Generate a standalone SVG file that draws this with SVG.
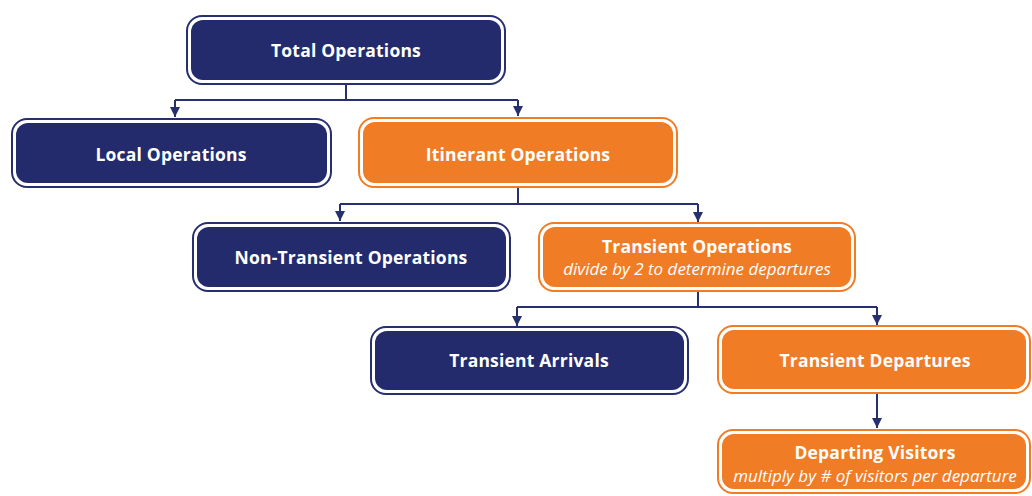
<svg xmlns="http://www.w3.org/2000/svg" width="1032" height="496" viewBox="0 0 1032 496">
<defs>
<style>
.o{fill:#fff;stroke-width:2}
.nv .o{stroke:#27306e}
.nv .i{fill:#232b6c}
.or .o{stroke:#f07c26}
.or .i{fill:#f07c26}
.t{font-family:"Open Sans","DejaVu Sans",sans-serif;font-weight:bold;font-size:17.5px;letter-spacing:0.2px;fill:#fff;text-anchor:middle}
.s{font-family:"Open Sans","DejaVu Sans",sans-serif;font-style:italic;font-size:17px;fill:#fff;text-anchor:middle}
.c{fill:none;stroke:#27306e;stroke-width:2}
</style>
<marker id="ah" viewBox="0 0 10 10" refX="10" refY="5" markerWidth="5" markerHeight="5" orient="auto" markerUnits="strokeWidth">
<path d="M0,0 L10,5 L0,10 z" fill="#27306e"/>
</marker>
</defs>
<rect width="1032" height="496" fill="#fff"/>
<g id="connectors">
<path class="c" d="M346,84 V100"/>
<path class="c" d="M175,100 H518"/>
<path class="c" d="M175,100 V117" marker-end="url(#ah)"/>
<path class="c" d="M518,100 V116" marker-end="url(#ah)"/>
<path class="c" d="M518,188 V204"/>
<path class="c" d="M340,204 H698"/>
<path class="c" d="M340,204 V221" marker-end="url(#ah)"/>
<path class="c" d="M698,204 V222" marker-end="url(#ah)"/>
<path class="c" d="M698,292 V307"/>
<path class="c" d="M517,307 H877"/>
<path class="c" d="M517,307 V326" marker-end="url(#ah)"/>
<path class="c" d="M877,307 V325" marker-end="url(#ah)"/>
<path class="c" d="M877,393 V428" marker-end="url(#ah)"/>
</g>
<g id="total" class="nv">
<rect class="o" x="187" y="16" width="318" height="68" rx="15"/>
<rect class="i" x="191" y="20" width="310" height="60" rx="12"/>
<text class="t" x="346" y="57">Total Operations</text>
</g>
<g id="local" class="nv">
<rect class="o" x="12" y="119" width="319" height="68" rx="15"/>
<rect class="i" x="16" y="123" width="311" height="60" rx="12"/>
<text class="t" x="171" y="161">Local Operations</text>
</g>
<g id="itinerant" class="or">
<rect class="o" x="359" y="118" width="318" height="69" rx="15"/>
<rect class="i" x="363" y="122" width="310" height="61" rx="12"/>
<text class="t" x="518" y="161">Itinerant Operations</text>
</g>
<g id="nontransient" class="nv">
<rect class="o" x="193" y="223" width="317" height="68" rx="15"/>
<rect class="i" x="197" y="227" width="309" height="60" rx="12"/>
<text class="t" x="351" y="264">Non-Transient Operations</text>
</g>
<g id="transient" class="or">
<rect class="o" x="539" y="223" width="316" height="68" rx="15"/>
<rect class="i" x="543" y="227" width="308" height="60" rx="12"/>
<text class="t" x="697" y="253">Transient Operations</text>
<text class="s" x="697" y="275">divide by 2 to determine departures</text>
</g>
<g id="arrivals" class="nv">
<rect class="o" x="371" y="327" width="317" height="67" rx="15"/>
<rect class="i" x="375" y="331" width="309" height="59" rx="12"/>
<text class="t" x="529" y="367">Transient Arrivals</text>
</g>
<g id="departures" class="or">
<rect class="o" x="718" y="326" width="312" height="67" rx="15"/>
<rect class="i" x="722" y="330" width="304" height="59" rx="12"/>
<text class="t" x="875" y="367">Transient Departures</text>
</g>
<g id="visitors" class="or">
<rect class="o" x="718" y="430" width="312" height="63" rx="15"/>
<rect class="i" x="722" y="434" width="304" height="55" rx="12"/>
<text class="t" x="875" y="459">Departing Visitors</text>
<text class="s" x="875" y="482">multiply by # of visitors per departure</text>
</g>
</svg>
